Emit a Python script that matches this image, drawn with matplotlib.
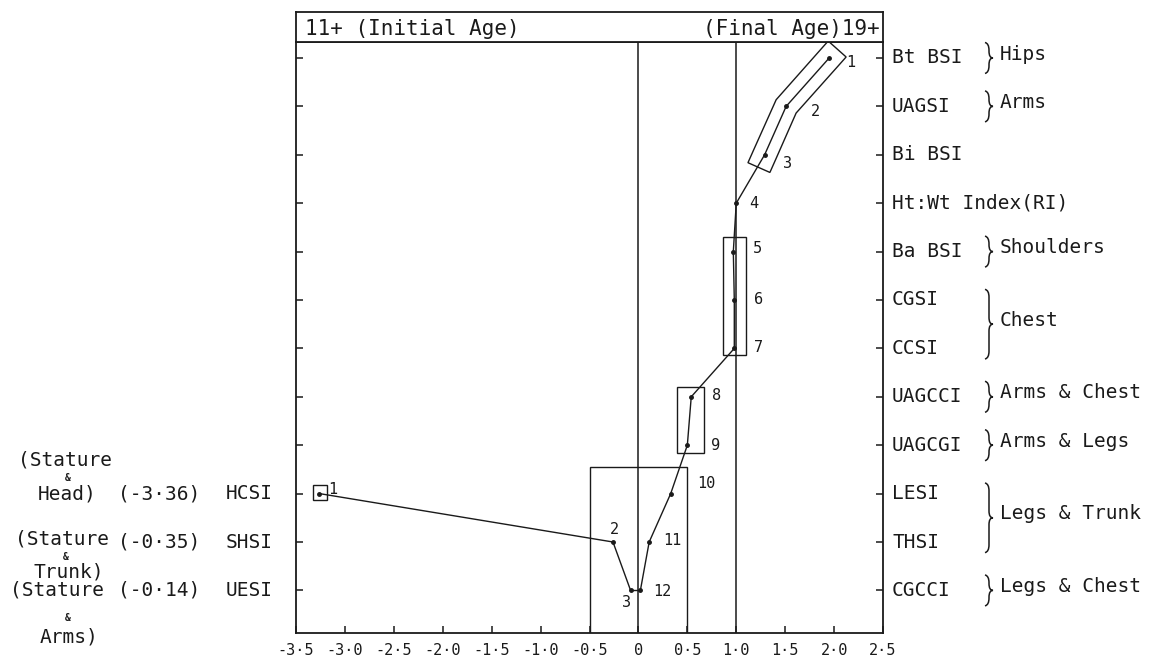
import numpy as np
import matplotlib
matplotlib.use("Agg")
import matplotlib.pyplot as plt
from matplotlib.transforms import blended_transform_factory
from matplotlib.patches import Rectangle, Polygon, PathPatch
from matplotlib.path import Path

# final-age standardised indices (top to bottom)
indices = ['Bt BSI', 'UAGSI', 'Bi BSI', 'Ht:Wt Index(RI)', 'Ba BSI', 'CGSI',
           'CCSI', 'UAGCCI', 'UAGCGI', 'LESI', 'THSI', 'CGCCI']
final_values = [1.95, 1.51, 1.29, 1.0, 0.97, 0.98, 0.98, 0.54, 0.50, 0.33, 0.11, 0.02]

# initial-age indices, drawn on the last three rows
initial_names = ['HCSI', 'SHSI', 'UESI']
initial_values = [-3.26, -0.26, -0.08]
initial_text = ['(-3·36)', '(-0·35)', '(-0·14)']
initial_rows = [9, 10, 11]

# body region groups: (first row, last row, name)
groups = [(0, 0, 'Hips'), (1, 1, 'Arms'), (4, 4, 'Shoulders'), (5, 6, 'Chest'),
          (7, 7, 'Arms & Chest'), (8, 8, 'Arms & Legs'), (9, 10, 'Legs & Trunk'),
          (11, 11, 'Legs & Chest')]

xticks = np.arange(-3.5, 2.51, 0.5)
xtick_labels = ['-3·5', '-3·0', '-2·5', '-2·0', '-1·5', '-1·0', '-0·5',
                '0', '0·5', '1·0', '1·5', '2·0', '2·5']

W, H = 1150, 665
ink = '#1a1a1a'
plt.rcParams['font.family'] = ['DejaVu Sans Mono', 'DejaVu Sans']
fs = 14

fig = plt.figure(figsize=(W / 100, H / 100), dpi=100)
ax = fig.add_axes([296 / W, 1 - 633 / H, 587 / W, 591 / H])
head = fig.add_axes([296 / W, 1 - 42 / H, 587 / W, 30 / H])

rows = np.arange(len(indices))
ax.set_xlim(-3.5, 2.5)
ax.set_ylim(11.88, -0.33)
for s in ax.spines.values():
    s.set_linewidth(1.3)
    s.set_color(ink)
ax.set_xticks(xticks)
ax.set_xticklabels(xtick_labels, fontsize=11, color=ink)
ax.set_yticks(rows)
ax.set_yticklabels([])
ax.tick_params(axis='both', direction='in', length=5, width=1.1, color=ink,
               left=True, right=True, pad=7)

head.set_xticks([])
head.set_yticks([])
for s in head.spines.values():
    s.set_linewidth(1.3)
    s.set_color(ink)
head.text(0.015, 0.42, '11+ (Initial Age)', fontsize=15, va='center', ha='left', color=ink)
head.text(0.995, 0.42, '(Final Age)19+', fontsize=15, va='center', ha='right', color=ink)

# reference lines at 0 and 1
ax.axvline(0, color=ink, lw=1.1)
ax.axvline(1.0, color=ink, lw=1.1)

# connecting lines and points
ax.plot(final_values, rows, color=ink, lw=1.0, marker='o', ms=2.5)
ax.plot(initial_values, initial_rows, color=ink, lw=1.0, marker='o', ms=2.5)
ax.plot([initial_values[-1], final_values[-1]], [initial_rows[-1], rows[-1]],
        color=ink, lw=1.0)

# point numbers
offs = [(12, -3), (18, -4), (13, -6), (9, 0), (14, 2), (14, 0), (14, 1),
        (15, 1), (17, 0), (19, 7), (10, 1), (9, -1)]
for i, (v, r) in enumerate(zip(final_values, rows)):
    ax.annotate(str(i + 1), (v, r), xytext=offs[i], textcoords='offset points',
                fontsize=11, color=ink, va='center', ha='left')
offs_l = [(6, 3), (-2, 9), (-6, -9)]
for i, (v, r) in enumerate(zip(initial_values, initial_rows)):
    ax.annotate(str(i + 1), (v, r), xytext=offs_l[i], textcoords='offset points',
                fontsize=11, color=ink, va='center', ha='left')

# boxes around clusters
box = dict(fill=False, ec=ink, lw=1.0)
ax.add_patch(Rectangle((0.86, 3.70), 0.24, 2.44, **box))
ax.add_patch(Rectangle((0.39, 6.80), 0.28, 1.36, **box))
ax.add_patch(Rectangle((-0.5, 8.45), 1.0, 3.5, **box))
ax.add_patch(Rectangle((initial_values[0] - 0.07, 8.82), 0.15, 0.32, **box))

# slanted band round points 1-3
pts = ax.transData.transform(np.column_stack([final_values[:3], rows[:3]]))
t0 = (pts[0] - pts[1]) / np.linalg.norm(pts[0] - pts[1])
t2 = (pts[2] - pts[1]) / np.linalg.norm(pts[2] - pts[1])
line = np.vstack([pts[0] + 12 * t0, pts, pts[2] + 14 * t2])
normals = []
for k in range(len(line)):
    a = line[max(k - 1, 0)]
    b = line[min(k + 1, len(line) - 1)]
    d = (b - a) / np.linalg.norm(b - a)
    normals.append([-d[1], d[0]])
normals = np.array(normals)
poly = np.vstack([line + 12 * normals, (line - 12 * normals)[::-1]])
ax.add_patch(Polygon(ax.transData.inverted().transform(poly), closed=True, **box))

# right labels
tr = blended_transform_factory(fig.transFigure, ax.transData)
for r, name in zip(rows, indices):
    ax.text(892 / W, r, name, transform=tr, fontsize=fs, va='center', ha='left',
            color=ink, clip_on=False)


def brace(y0, y1, x=989 / W, w=4 / W, r=0.14):
    ym = (y0 + y1) / 2
    v = [(x - w, y0 - 0.02), (x, y0), (x, y0 + r), (x, ym - r), (x, ym), (x + w, ym),
         (x, ym), (x, ym + r), (x, y1 - r), (x, y1), (x - w, y1 + 0.02)]
    c = [Path.MOVETO, Path.CURVE3, Path.CURVE3, Path.LINETO, Path.CURVE3, Path.CURVE3,
         Path.CURVE3, Path.CURVE3, Path.LINETO, Path.CURVE3, Path.CURVE3]
    ax.add_patch(PathPatch(Path(v, c), transform=tr, fill=False, ec=ink, lw=1.1,
                           clip_on=False))


for a, b, name in groups:
    if a == b:
        brace(a - 0.3, b + 0.3)
    else:
        brace(a - 0.2, b + 0.2)
    ax.text(1000 / W, (a + b) / 2 - 0.08, name, transform=tr, fontsize=fs,
            va='center', ha='left', color=ink, clip_on=False)

# left labels for the initial-age indices
for r, name, t in zip(initial_rows, initial_names, initial_text):
    ax.text(118 / W, r, t, transform=tr, fontsize=fs, va='center', ha='left',
            color=ink, clip_on=False)
    ax.text(273 / W, r, name, transform=tr, fontsize=fs, va='center', ha='right',
            color=ink, clip_on=False)
left_parts = [[('(Stature', 18, -0.70), ('&', 68, -0.32), ('Head)', 38, 0.0)],
              [('(Stature', 15, -0.07), ('&', 66, 0.30), ('Trunk)', 33, 0.62)],
              [('(Stature', 10, 0.0), ('&', 68, 0.58), ('Arms)', 40, 0.96)]]
for r, parts in zip(initial_rows, left_parts):
    for txt, px, dy in parts:
        if txt == '&':
            ax.text(px / W, r + dy, txt, transform=tr, fontsize=7, va='center',
                    ha='center', color=ink, clip_on=False, fontweight='bold')
        else:
            ax.text(px / W, r + dy, txt, transform=tr, fontsize=fs, va='center',
                    ha='left', color=ink, clip_on=False)

fig.savefig('out.png', dpi=100)
